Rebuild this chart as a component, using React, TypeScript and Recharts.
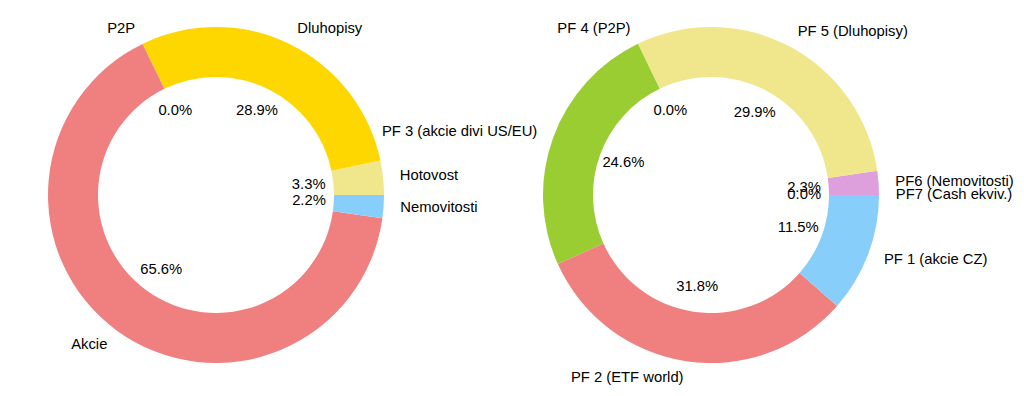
import { PieChart, Pie, Cell } from "recharts";

const leftNames = ["Hotovost", "Dluhopisy", "P2P", "Akcie", "Nemovitosti"];
const leftValues = [3.3, 28.9, 0.0, 65.6, 2.2];
const leftColors = ["#F0E68C", "#FFD700", "#F08080", "#F08080", "#87CEFA"];

const rightNames = [
  "PF6 (Nemovitosti)",
  "PF 5 (Dluhopisy)",
  "PF 4 (P2P)",
  "PF 3 (akcie divi US/EU)",
  "PF 2 (ETF world)",
  "PF 1 (akcie CZ)",
  "PF7 (Cash ekviv.)",
];
const rightValues = [2.3, 29.9, 0.0, 24.6, 31.8, 11.5, 0.0];
const rightColors = ["#DDA0DD", "#F0E68C", "#9ACD32", "#9ACD32", "#F08080", "#87CEFA", "#87CEFA"];

const leftData = leftNames.map((name, i) => ({ name, value: leftValues[i] }));
const rightData = rightNames.map((name, i) => ({ name, value: rightValues[i] }));

const RAD = Math.PI / 180;
const FONT = "'Liberation Sans', Arial, sans-serif";

function renderLabel(props: any) {
  const { cx, cy, midAngle, outerRadius, name, value } = props;
  const c = Math.cos(-midAngle * RAD);
  const s = Math.sin(-midAngle * RAD);
  const lr = outerRadius * 1.1;
  const pr = outerRadius * 0.555;
  return (
    <g>
      <text
        x={cx + lr * c}
        y={cy + lr * s - 1}
        textAnchor={c >= 0 ? "start" : "end"}
        dominantBaseline="central"
        fontSize={14.8}
        fontFamily={FONT}
        fill="#000"
      >
        {name}
      </text>
      <text
        x={cx + pr * c}
        y={cy + pr * s - 1}
        textAnchor="middle"
        dominantBaseline="central"
        fontSize={14.8}
        fontFamily={FONT}
        fill="#000"
      >
        {`${Number(value).toFixed(1)}%`}
      </text>
    </g>
  );
}

export default function App() {
  return (
    <div style={{ position: "absolute", left: 0, top: 0, background: "#fff" }}>
      <PieChart width={1024} height={396} margin={{ top: 0, right: 0, bottom: 0, left: 0 }}>
        <Pie
          data={leftData}
          dataKey="value"
          nameKey="name"
          cx={216}
          cy={195}
          innerRadius={118}
          outerRadius={168}
          startAngle={0}
          endAngle={360}
          stroke="none"
          label={renderLabel}
          labelLine={false}
          isAnimationActive={false}
        >
          {leftData.map((d, i) => (
            <Cell key={d.name} fill={leftColors[i]} />
          ))}
        </Pie>
        <Pie
          data={rightData}
          dataKey="value"
          nameKey="name"
          cx={711}
          cy={195}
          innerRadius={118}
          outerRadius={168}
          startAngle={0}
          endAngle={360}
          stroke="none"
          label={renderLabel}
          labelLine={false}
          isAnimationActive={false}
        >
          {rightData.map((d, i) => (
            <Cell key={d.name} fill={rightColors[i]} />
          ))}
        </Pie>
      </PieChart>
    </div>
  );
}
